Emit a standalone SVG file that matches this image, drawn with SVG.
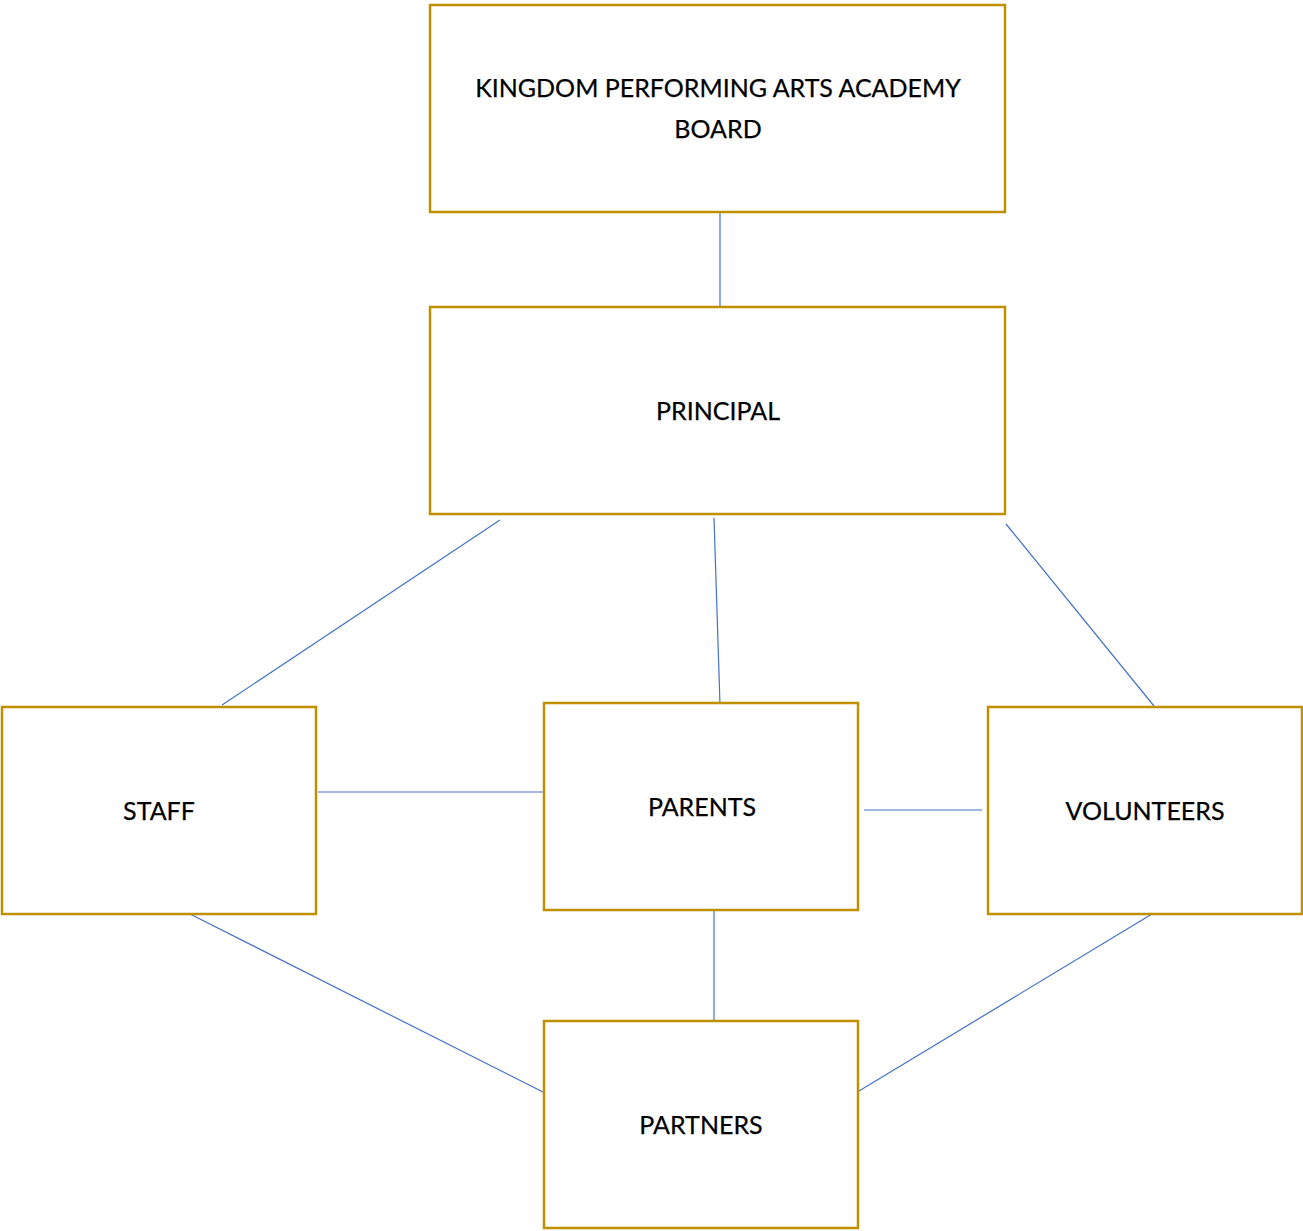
<svg xmlns="http://www.w3.org/2000/svg" width="1303" height="1231" viewBox="0 0 1303 1231">
<style>
.box{fill:#fff;stroke:#BF9000;stroke-width:2.5}
.lbl{font-family:Lato,"Open Sans","Liberation Sans",sans-serif;font-size:25px;fill:#000;text-anchor:middle;stroke:#000;stroke-width:0.25}
.con line{stroke:#4472C4;stroke-width:1.2}
</style>
<rect width="1303" height="1231" fill="#fff"/>
<g id="connectors" class="con">
<line x1="720" y1="212" x2="720" y2="310"/>
<line x1="500" y1="520" x2="222" y2="705"/>
<line x1="714" y1="518" x2="720" y2="705"/>
<line x1="1006" y1="524" x2="1154" y2="706"/>
<line x1="318" y1="792" x2="543" y2="792"/>
<line x1="864" y1="810" x2="982" y2="810"/>
<line x1="190" y1="914" x2="543" y2="1092"/>
<line x1="714" y1="910" x2="714" y2="1020"/>
<line x1="1152" y1="914" x2="859" y2="1091"/>
</g>
<g id="board"><rect class="box" x="430" y="5" width="575" height="207"/>
<text class="lbl" x="718" y="97">KINGDOM PERFORMING ARTS ACADEMY</text>
<text class="lbl" x="718" y="138">BOARD</text></g>
<g id="principal"><rect class="box" x="430" y="307" width="575" height="207"/>
<text class="lbl" x="718" y="420">PRINCIPAL</text></g>
<g id="staff"><rect class="box" x="2" y="707" width="314" height="207"/>
<text class="lbl" x="159" y="820">STAFF</text></g>
<g id="parents"><rect class="box" x="544" y="703" width="314" height="207"/>
<text class="lbl" x="702" y="816">PARENTS</text></g>
<g id="volunteers"><rect class="box" x="988" y="707" width="314" height="207"/>
<text class="lbl" x="1145" y="820">VOLUNTEERS</text></g>
<g id="partners"><rect class="box" x="544" y="1021" width="314" height="207"/>
<text class="lbl" x="701" y="1134">PARTNERS</text></g>
</svg>
